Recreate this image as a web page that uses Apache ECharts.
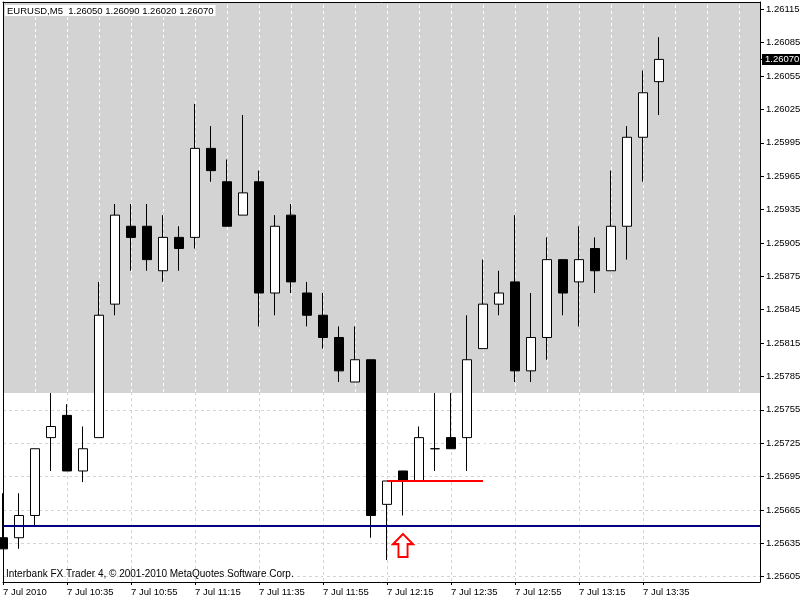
<!DOCTYPE html>
<html>
<head>
<meta charset="utf-8">
<script src="https://cdn.jsdelivr.net/npm/echarts@6/dist/echarts.min.js"></script>
<style>html,body{margin:0;padding:0;background:#fff}#chart{width:800px;height:600px}</style>
</head>
<body>
<div id="chart"></div>
<script>
// ---- data (EURUSD, M5, 7 Jul 2010) ----
const symbolName = 'EURUSD,M5';
const times = ['10:15','10:20','10:25','10:30','10:35','10:40','10:45','10:50','10:55','11:00',
  '11:05','11:10','11:15','11:20','11:25','11:30','11:35','11:40','11:45','11:50',
  '11:55','12:00','12:05','12:10','12:15','12:20','12:25','12:30','12:35','12:40',
  '12:45','12:50','12:55','13:00','13:05','13:10','13:15','13:20','13:25','13:30',
  '13:35','13:40'];
const opens  = [1.2564,1.2564,1.2566,1.2573,1.2575,1.2570,1.2573,1.2585,1.2592,1.2592,
  1.2588,1.2591,1.2591,1.2599,1.2596,1.2593,1.2596,1.2586,1.2593,1.2586,
  1.2584,1.2582,1.2578,1.2580,1.2567,1.2570,1.25691,1.2572,1.2573,1.2573,
  1.2581,1.2585,1.2587,1.2579,1.2582,1.2589,1.2587,1.2590,1.2588,1.2592,
  1.2600,1.2605];
const closes = [1.2563,1.2566,1.2572,1.2574,1.2570,1.2572,1.2584,1.2593,1.2591,1.2589,
  1.2591,1.2590,1.2599,1.2597,1.2592,1.2595,1.2586,1.2592,1.2587,1.2584,
  1.2582,1.2579,1.2580,1.2566,1.25691,1.25691,1.2573,1.2572,1.2572,1.2580,
  1.2585,1.2586,1.2579,1.2582,1.2589,1.2586,1.2589,1.2588,1.2592,1.2600,
  1.2604,1.2607];
const lows   = [1.2563,1.2563,1.2565,1.2570,1.2570,1.2569,1.2573,1.2584,1.2588,1.2588,
  1.2587,1.2588,1.2590,1.2596,1.2592,1.2593,1.2583,1.2584,1.2586,1.2583,
  1.2581,1.2578,1.2578,1.2564,1.2562,1.2566,1.25691,1.2570,1.2572,1.2570,
  1.2581,1.2584,1.2578,1.2578,1.2580,1.2584,1.2583,1.2586,1.2588,1.2589,
  1.2596,1.2602];
const highs  = [1.2568,1.2568,1.2572,1.2577,1.2576,1.2574,1.2587,1.2594,1.2594,1.2594,
  1.2593,1.2592,1.2603,1.2601,1.2598,1.2602,1.2597,1.2593,1.2594,1.2587,
  1.2586,1.2583,1.2583,1.2580,1.25691,1.2570,1.2574,1.2577,1.2577,1.2584,
  1.2589,1.2588,1.2593,1.2586,1.2591,1.2589,1.2592,1.2591,1.2597,1.2601,
  1.2606,1.2609];
const priceTicks = [1.25605,1.25635,1.25665,1.25695,1.25725,1.25755,1.25785,1.25815,1.25845,
  1.25875,1.25905,1.25935,1.25965,1.25995,1.26025,1.26055,1.26085,1.26115];
const timeTickBars = [0,4,8,12,16,20,24,28,32,36,40];
const timeTickLabels = ['7 Jul 2010','7 Jul 10:35','7 Jul 10:55','7 Jul 11:15','7 Jul 11:35',
  '7 Jul 11:55','7 Jul 12:15','7 Jul 12:35','7 Jul 12:55','7 Jul 13:15','7 Jul 13:35'];
// chart objects
const supportLevel = 1.25651;          // navy horizontal line
const breakLevel = 1.25691;            // red trend segment
const breakFromBar = 24, breakToBar = 30;
const zoneLow = 1.2577;                // bottom of grey rectangle
const arrowBar = 25, arrowPrice = 1.25633;
const copyright = 'Interbank FX Trader 4, \u00A9 2001-2010 MetaQuotes Software Corp.';

// ---- view settings ----
const Y_MIN = 1.256002, Y_MAX = 1.261216;
const X_MIN = 0, X_MAX = 47.3125;
const FONT = '"Liberation Sans", Arial, sans-serif';
const FS = 9.5;
const GRID_GREY = '#D3D3D3';

const last = opens.length - 1;
const f5 = v => v.toFixed(5);
const titleText = symbolName + '  ' + [opens[last], highs[last], lows[last], closes[last]].map(f5).join(' ');
const candles = opens.map((o, i) => [i, o, closes[i], lows[i], highs[i]]);
const tickLabelOf = {};
timeTickBars.forEach((b, k) => { tickLabelOf[b] = timeTickLabels[k]; });

const chart = echarts.init(document.getElementById('chart'), null, {renderer: 'canvas'});
chart.setOption({
  animation: false,
  backgroundColor: '#fff',
  title: {
    text: titleText, left: 5, top: 5, padding: [1, 2, 0, 2],
    backgroundColor: '#fff',
    textStyle: {fontFamily: FONT, fontSize: FS, fontWeight: 'normal', color: '#000', lineHeight: 10}
  },
  grid: {left: 3, right: 40, top: 2, bottom: 18, show: false, containLabel: false, outerBoundsMode: 'none'},
  xAxis: [{
    type: 'value', min: X_MIN, max: X_MAX, interval: 2, z: 0,
    axisLine: {show: true, onZero: false, lineStyle: {color: '#000', width: 1}},
    axisTick: {show: true, customValues: timeTickBars, length: 3, lineStyle: {color: '#000'}},
    axisLabel: {show: true, customValues: timeTickBars, align: 'left', margin: 5,
      fontFamily: FONT, fontSize: FS, color: '#000',
      formatter: v => tickLabelOf[Math.round(v)] || ''},
    splitLine: {show: true, lineStyle: {color: GRID_GREY, width: 1, type: [3, 3]}}
  }, {
    type: 'value', min: X_MIN, max: X_MAX, interval: 2, position: 'top', z: 1.5,
    axisLine: {show: true, onZero: false, lineStyle: {color: '#000', width: 1}},
    axisTick: {show: false}, axisLabel: {show: false},
    splitLine: {show: true, lineStyle: {color: '#fff', width: 1, type: [3, 3], dashOffset: 3}}
  }],
  yAxis: [{
    type: 'value', min: Y_MIN, max: Y_MAX, position: 'right', z: 3,
    axisLine: {show: true, onZero: false, lineStyle: {color: '#000', width: 1}},
    axisTick: {show: true, customValues: priceTicks.concat([closes[last]]), length: 4, lineStyle: {color: '#000'}},
    axisLabel: {show: true, customValues: priceTicks, margin: 6, fontFamily: FONT, fontSize: FS, color: '#000',
      formatter: v => f5(v)},
    splitLine: {show: false}
  }, {
    type: 'value', min: Y_MIN, max: Y_MAX, position: 'left', z: 3,
    axisLine: {show: true, onZero: false, lineStyle: {color: '#000', width: 1}},
    axisTick: {show: false}, axisLabel: {show: false}, splitLine: {show: false}
  }],
  graphic: [{
    type: 'text', left: 6, top: 569, z: 10,
    style: {text: copyright, font: '10px ' + FONT, fill: '#000'}
  }],
  series: [{
    // background objects: grey rectangle + horizontal grid
    type: 'line', xAxisIndex: 0, yAxisIndex: 0, data: [], silent: true,
    markArea: {
      silent: true, z: 1,
      itemStyle: {color: GRID_GREY},
      label: {show: false},
      data: [[{yAxis: zoneLow}, {yAxis: Y_MAX}]]
    },
    markLine: {
      silent: true, z: 0.5, precision: 6, symbol: ['none', 'none'], label: {show: false},
      lineStyle: {color: GRID_GREY, width: 1, type: [3, 3]},
      data: priceTicks.map(v => ({yAxis: v}))
    }
  }, {
    type: 'candlestick', xAxisIndex: 0, yAxisIndex: 0, z: 2,
    data: candles, barWidth: 10, clip: true,
    itemStyle: {color: '#fff', color0: '#000', borderColor: '#000', borderColor0: '#000',
      borderColorDoji: '#000', borderWidth: 1},
    emphasis: {disabled: true},
    markPoint: {
      silent: true, z: 5,
      data: [{coord: [arrowBar, arrowPrice],
        symbol: 'path://M11 0 L22 11 L16 11 L16 25 L6 25 L6 11 L0 11 Z',
        symbolSize: [20, 23],
        itemStyle: {color: '#fff', borderColor: '#ff0000', borderWidth: 2},
        label: {show: false}}]
    }
  }, {
    // foreground objects: horizontal line, trend segment, last price label
    type: 'line', xAxisIndex: 0, yAxisIndex: 0, data: [], silent: true,
    markLine: {
      silent: true, z: 5, precision: 6, symbol: ['none', 'none'], label: {show: false},
      data: [
        {yAxis: supportLevel, lineStyle: {color: '#000080', width: 2, type: 'solid'}},
        [{coord: [breakFromBar, breakLevel], lineStyle: {color: '#ff0000', width: 2, type: 'solid'}},
         {coord: [breakToBar, breakLevel]}],
        {yAxis: closes[last], lineStyle: {width: 0, color: 'rgba(0,0,0,0)'},
         label: {show: true, position: 'end', distance: 2, formatter: f5(closes[last]),
           color: '#fff', backgroundColor: '#000', padding: [1, 2, 0, 3],
           fontFamily: FONT, fontSize: FS}}
      ]
    }
  }]
});
</script>
</body>
</html>
